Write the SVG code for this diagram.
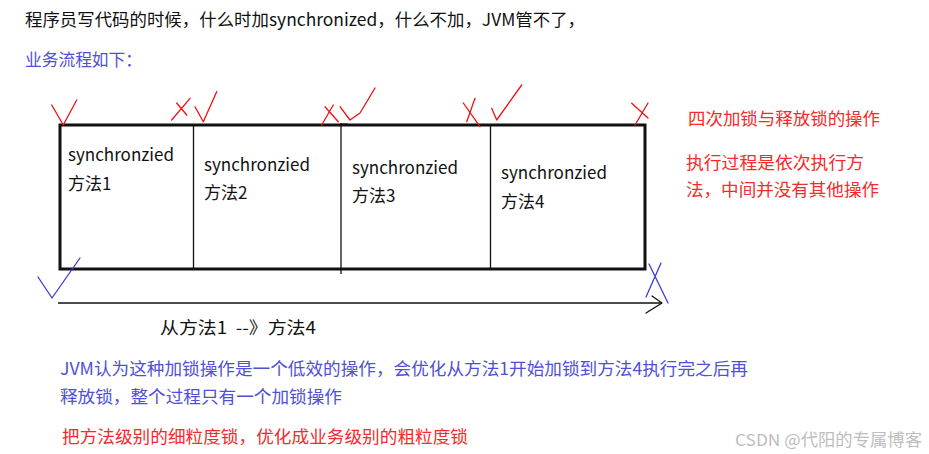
<svg xmlns="http://www.w3.org/2000/svg" width="929" height="454" viewBox="0 0 929 454">
<style>
text{font-family:"Noto Sans CJK SC","Noto Sans",sans-serif;}
.t{font-size:17px;fill:#111;}
.b{font-size:17.5px;fill:#4f4fd8;}
.r{font-size:17.5px;fill:#f52a2a;}
.c{font-size:17px;fill:#111;}
.rm{fill:none;stroke:#f01010;stroke-width:1.3;stroke-linecap:round;stroke-linejoin:round;}
.bm{fill:none;stroke:#3c3cd8;stroke-width:1.3;stroke-linecap:round;stroke-linejoin:round;}
.wm{font-size:16.5px;fill:#bdbdbd;}
</style>
<rect width="929" height="454" fill="#fff"/>
<text class="t" x="25" y="26" textLength="560" lengthAdjust="spacingAndGlyphs">程序员写代码的时候，什么时加synchronized，什么不加，JVM管不了，</text>
<text class="b" x="25" y="66" textLength="117" lengthAdjust="spacingAndGlyphs">业务流程如下：</text>

<g id="box">
<rect x="60" y="125" width="585" height="144" fill="none" stroke="#111" stroke-width="3"/>
</g>
<g id="method1">
<text class="c" x="68" y="161">synchronzied</text>
<text class="c" x="68" y="190">方法1</text>
</g>
<g id="method2">
<line x1="193.5" y1="125" x2="193.5" y2="269" stroke="#111" stroke-width="1.3"/>
<text class="c" x="204" y="171">synchronzied</text>
<text class="c" x="204" y="199">方法2</text>
</g>
<g id="method3">
<line x1="341" y1="123" x2="341" y2="274" stroke="#111" stroke-width="1.3"/>
<line x1="340" y1="124.5" x2="348" y2="124.5" stroke="#111" stroke-width="2"/>
<text class="c" x="352" y="174">synchronzied</text>
<text class="c" x="352" y="202">方法3</text>
</g>
<g id="method4">
<line x1="490.5" y1="125" x2="490.5" y2="269" stroke="#111" stroke-width="1.3"/>
<text class="c" x="501" y="179">synchronzied</text>
<text class="c" x="501" y="208">方法4</text>
</g>

<g id="marks">
<path class="rm" d="M51.7,105 L63.3,125 L76.7,100"/>
<path class="rm" d="M171.7,120 L190,98.3 M176.7,103 L186.7,115"/>
<path class="rm" d="M195,106.7 L203.3,121.7 L216.7,91.7"/>
<path class="rm" d="M321.7,125 L333.3,105 M325,106.7 L338.3,121.7"/>
<path class="rm" d="M340,106.7 L350,120 L360,113 L375,88"/>
<path class="rm" d="M463.3,103 L480,126.7 M466.7,121.7 L475,98.3"/>
<path class="rm" d="M491.7,108.3 L496.7,120 L521.7,85"/>
<path class="rm" d="M631.7,103.3 L648,118 M635,125 L648,103"/>
<path class="bm" d="M38,277 L52,298 L80,258"/>
<path class="bm" d="M649,264 L668,303 M661,263 L646,297"/>
</g>

<g id="connectors">
<line x1="58" y1="303" x2="662" y2="303" stroke="#111" stroke-width="1.3"/>
<path d="M652,296 L662,303 L646,313" fill="none" stroke="#111" stroke-width="1.3" stroke-linecap="round" stroke-linejoin="round"/>
</g>
<text class="c" x="160" y="334" xml:space="preserve" textLength="156" lengthAdjust="spacingAndGlyphs">从方法1  --》方法4</text>

<g id="notes">
<text class="r" x="688" y="125" textLength="192" lengthAdjust="spacingAndGlyphs">四次加锁与释放锁的操作</text>
<text class="r" x="686" y="169" textLength="178" lengthAdjust="spacingAndGlyphs">执行过程是依次执行方</text>
<text class="r" x="686" y="196" textLength="193" lengthAdjust="spacingAndGlyphs">法，中间并没有其他操作</text>
</g>
<text class="b" x="60" y="375" textLength="688" lengthAdjust="spacingAndGlyphs">JVM认为这种加锁操作是一个低效的操作，会优化从方法1开始加锁到方法4执行完之后再</text>
<text class="b" x="60" y="403" textLength="282" lengthAdjust="spacingAndGlyphs">释放锁，整个过程只有一个加锁操作</text>
<text class="r" x="62" y="443" textLength="406" lengthAdjust="spacingAndGlyphs">把方法级别的细粒度锁，优化成业务级别的粗粒度锁</text>
<text class="wm" x="735" y="446" textLength="187" lengthAdjust="spacingAndGlyphs">CSDN @代阳的专属博客</text>
</svg>
